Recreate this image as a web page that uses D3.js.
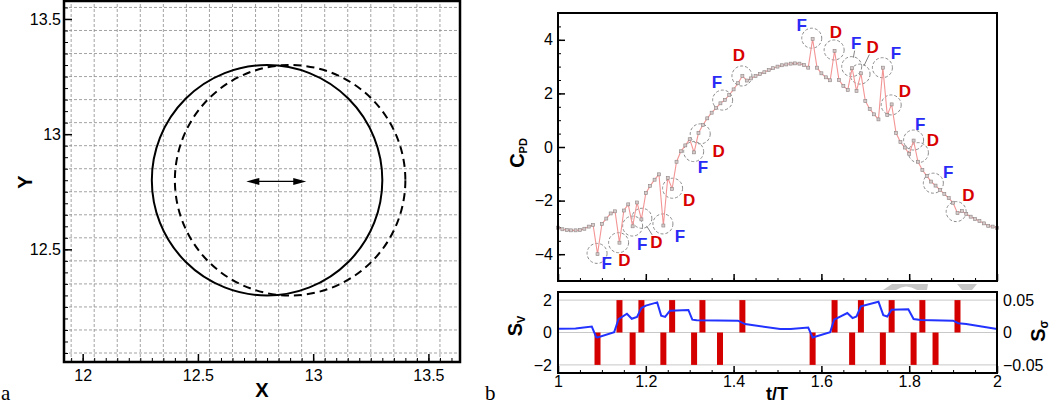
<!DOCTYPE html>
<html>
<head>
<meta charset="utf-8">
<script src="https://cdn.jsdelivr.net/npm/d3@7"></script>
<style>
  body { margin: 0; background: #fff; }
  svg { display: block; font-family: "Liberation Sans", Arial, sans-serif; }
</style>
</head>
<body>
<svg id="chart" width="1050" height="407"></svg>
<script>
// ---------- data: panel a ----------
const circleCx = [12.8, 12.9];
const circleCy = [12.8, 12.8];
const circleR = [0.5, 0.5];
const circleDash = [false, true];
const arrowX = [12.71, 12.97];
const arrowY = 12.795;
const aTicks = [12, 12.5, 13, 13.5];

// ---------- data: panel b ----------
const tTicks = [1, 1.2, 1.4, 1.6, 1.8, 2];
const cpdTicks = [-4, -2, 0, 2, 4];
const svTicks = [-2, 0, 2];
const ssTicks = [-0.05, 0, 0.05];

// C_PD sampled every 0.01 t/T from 1 to 2
const cpdT = d3.range(101).map(i => 1 + i / 100);
const cpdV = [
  -3.01, -3.07, -3.10, -3.11, -3.11, -3.10, -3.05, -2.97, -2.91, -4.00,
  -2.87, -2.67, -2.48, -2.40, -3.57, -2.37, -2.14, -2.96, -2.07, -2.70,
  -1.72, -1.45, -1.22, -1.02, -2.93, -1.15, -1.56, -0.55, -0.16, 0.06,
  0.29, -0.20, 0.52, 0.82, 1.07, 1.28, 1.45, 1.63, 1.76, 1.94,
  2.15, 2.38, 2.65, 2.48, 2.56, 2.65, 2.72, 2.79, 2.87, 2.94,
  3.00, 3.05, 3.08, 3.11, 3.12, 3.11, 3.06, 2.96, 4.03, 2.96,
  2.75, 2.60, 2.49, 3.59, 2.50, 2.28, 2.13, 2.94, 2.09, 2.75,
  1.72, 1.42, 1.22, 1.03, 2.96, 1.19, 1.59, 0.53, 0.18, -0.02,
  -0.26, 0.24, -0.55, -0.86, -1.08, -1.29, -1.44, -1.60, -1.75, -1.91,
  -2.08, -2.47, -2.39, -2.50, -2.60, -2.69, -2.76, -2.85, -2.94, -2.97,
  -3.02
];

// F / D annotations: circle centre and label anchor, in data units
const annType = ["F","D","F","D","F","D","F","D","F","D","F","D","F","D","F","D","F","D","F","D"];
const annT = [1.089, 1.138, 1.170, 1.191, 1.239, 1.261, 1.309, 1.324, 1.375, 1.419,
              1.578, 1.629, 1.669, 1.688, 1.739, 1.759, 1.810, 1.821, 1.855, 1.907];
const annV = [-3.97, -3.57, -2.95, -2.66, -2.87, -1.54, -0.17, 0.49, 1.75, 2.65,
              4.06, 3.62, 3.00, 2.72, 2.96, 1.57, 0.26, -0.21, -1.35, -2.41];
const labT = [1.111, 1.151, 1.192, 1.224, 1.278, 1.299, 1.330, 1.366, 1.362, 1.412,
              1.555, 1.633, 1.679, 1.717, 1.770, 1.790, 1.825, 1.854, 1.889, 1.935];
const labV = [-4.34, -4.22, -3.63, -3.53, -3.32, -1.98, -0.74, -0.14, 2.44, 3.43,
              4.55, 4.28, 3.89, 3.72, 3.52, 2.10, 0.88, 0.26, -0.92, -1.79];
const leaderIdx = [3, 12, 13];

// S_V (blue line)
const svT = [1.0, 1.04, 1.077, 1.087, 1.09, 1.128, 1.138, 1.157, 1.168, 1.18,
             1.19, 1.2, 1.226, 1.235, 1.244, 1.255, 1.297, 1.306, 1.316, 1.41,
             1.426, 1.506, 1.53, 1.57, 1.58, 1.62, 1.629, 1.659, 1.671, 1.68,
             1.69, 1.73, 1.741, 1.75, 1.76, 1.798, 1.81, 1.826, 1.90, 1.912,
             1.93, 2.0];
const svV = [0.23, 0.24, 0.37, -0.29, -0.30, 0.02, 0.83, 1.16, 0.85, 0.96,
             1.51, 1.66, 1.86, 1.04, 0.96, 1.35, 1.39, 0.79, 0.75, 0.73,
             0.52, 0.21, 0.21, 0.31, -0.31, 0.02, 0.79, 1.20, 0.89, 0.99,
             1.62, 1.90, 1.07, 0.99, 1.40, 1.44, 0.83, 0.77, 0.73, 0.57,
             0.53, 0.22];

// S_sigma events (red bars)
const ssT = [1.09, 1.14, 1.17, 1.19, 1.24, 1.26, 1.31, 1.329, 1.369, 1.42,
             1.58, 1.63, 1.67, 1.69, 1.74, 1.76, 1.81, 1.83, 1.86, 1.91];
const ssV = [-0.05, 0.05, -0.05, 0.05, -0.05, 0.05, -0.05, 0.05, -0.05, 0.05,
             -0.05, 0.05, -0.05, 0.05, -0.05, 0.05, -0.05, 0.05, -0.05, 0.05];

// ---------- setup ----------
const svg = d3.select("#chart");
const FONT = "16px";
const blue = "#2a2cf5";
const red = "#d90000";
const inside = (scale) => (v) => v >= d3.min(scale.domain()) && v <= d3.max(scale.domain());

// ===== panel a =====
const ax = d3.scaleLinear().domain([11.919, 13.637]).range([64, 460]);
const ay = d3.scaleLinear().domain([12.011, 13.578]).range([362, 1]);
const pa = svg.append("g");

// dashed grid
const gridX = d3.range(17).map(i => 11.95 + i * 0.1).filter(inside(ax));
const gridY = d3.range(16).map(i => 12.05 + i * 0.1).filter(inside(ay));
pa.selectAll(".gx").data(gridX).join("line")
  .attr("x1", d => ax(d)).attr("x2", d => ax(d))
  .attr("y1", ay.range()[0]).attr("y2", ay.range()[1])
  .attr("stroke", "#8c8c8c").attr("stroke-width", 0.8).attr("stroke-dasharray", "3,2");
pa.selectAll(".gy").data(gridY).join("line")
  .attr("y1", d => ay(d)).attr("y2", d => ay(d))
  .attr("x1", ax.range()[0]).attr("x2", ax.range()[1])
  .attr("stroke", "#8c8c8c").attr("stroke-width", 0.8).attr("stroke-dasharray", "3,2");

// circles
pa.selectAll(".cyl").data(circleCx).join("circle")
  .attr("cx", d => ax(d))
  .attr("cy", (d, i) => ay(circleCy[i]))
  .attr("r", (d, i) => ax(circleCx[i] + circleR[i]) - ax(circleCx[i]))
  .attr("fill", "none").attr("stroke", "#000").attr("stroke-width", 2)
  .attr("stroke-dasharray", (d, i) => circleDash[i] ? "8,5" : null);

// double arrow
const ax1 = ax(arrowX[0]), ax2 = ax(arrowX[1]), ayy = ay(arrowY);
pa.append("line").attr("x1", ax1 + 6).attr("x2", ax2 - 6)
  .attr("y1", ayy).attr("y2", ayy).attr("stroke", "#000").attr("stroke-width", 1.2);
pa.append("path").attr("d", `M${ax1},${ayy}L${ax1 + 13},${ayy - 3.5}L${ax1 + 13},${ayy + 3.5}Z`);
pa.append("path").attr("d", `M${ax2},${ayy}L${ax2 - 13},${ayy - 3.5}L${ax2 - 13},${ayy + 3.5}Z`);

// axes (ticks point inward)
const aMinor = d3.range(239, 273).map(i => i * 0.05);
pa.append("g").attr("transform", "translate(0,362)")
  .call(d3.axisBottom(ax).tickValues(aMinor.filter(inside(ax))).tickSize(-4).tickFormat(""))
  .call(g => g.select(".domain").remove());
pa.append("g").attr("transform", "translate(0,362)")
  .call(d3.axisBottom(ax).tickValues(aTicks.filter(inside(ax))).tickSizeInner(-8).tickSizeOuter(0).tickPadding(8).tickFormat(d3.format("")))
  .call(g => g.select(".domain").remove())
  .call(g => g.selectAll("line").attr("stroke-width", 1.5))
  .call(g => g.selectAll("text").attr("font-size", FONT).attr("fill", "#000").attr("font-family", null));
pa.append("g").attr("transform", "translate(64,0)")
  .call(d3.axisLeft(ay).tickValues(aMinor.filter(inside(ay))).tickSize(-4).tickFormat(""))
  .call(g => g.select(".domain").remove());
pa.append("g").attr("transform", "translate(64,0)")
  .call(d3.axisLeft(ay).tickValues(aTicks.filter(inside(ay))).tickSizeInner(-8).tickSizeOuter(0).tickPadding(3).tickFormat(d3.format("")))
  .call(g => g.select(".domain").remove())
  .call(g => g.selectAll("line").attr("stroke-width", 1.5))
  .call(g => g.selectAll("text").attr("font-size", FONT).attr("fill", "#000").attr("font-family", null));

pa.append("rect").attr("x", 64).attr("y", 1).attr("width", 396).attr("height", 361)
  .attr("fill", "none").attr("stroke", "#000").attr("stroke-width", 2.5);

pa.append("text").attr("x", 262).attr("y", 397).attr("text-anchor", "middle")
  .attr("font-size", "20px").attr("font-weight", "bold").text("X");
pa.append("text").attr("transform", "translate(32,182) rotate(-90)").attr("text-anchor", "middle")
  .attr("font-size", "20px").attr("font-weight", "bold").text("Y");

// ===== panel b: top =====
const bx = d3.scaleLinear().domain([1, 2]).range([558, 997]);
const by = d3.scaleLinear().domain([-5, 5]).range([281, 13]);
const pb = svg.append("g");
const tMinor = d3.range(21).map(i => 1 + i * 0.05);
const cpdMinor = d3.range(21).map(i => -5 + i * 0.5);

pb.append("g").attr("transform", "translate(0,281)")
  .call(d3.axisBottom(bx).tickValues(tMinor).tickSize(-3).tickFormat(""))
  .call(g => g.select(".domain").remove());
pb.append("g").attr("transform", "translate(0,281)")
  .call(d3.axisBottom(bx).tickValues(tTicks).tickSizeInner(-7).tickSizeOuter(0).tickFormat(""))
  .call(g => g.select(".domain").remove())
  .call(g => g.selectAll("line").attr("stroke-width", 1.5));
pb.append("g").attr("transform", "translate(558,0)")
  .call(d3.axisLeft(by).tickValues(cpdMinor).tickSize(-3).tickFormat(""))
  .call(g => g.select(".domain").remove());
pb.append("g").attr("transform", "translate(558,0)")
  .call(d3.axisLeft(by).tickValues(cpdTicks).tickSizeInner(-7).tickSizeOuter(0).tickPadding(5).tickFormat(d3.format("")))
  .call(g => g.select(".domain").remove())
  .call(g => g.selectAll("line").attr("stroke-width", 1.5))
  .call(g => g.selectAll("text").attr("font-size", FONT).attr("fill", "#000").attr("font-family", null));

// annotation circles
pb.selectAll(".ann").data(annT).join("circle")
  .attr("cx", d => bx(d)).attr("cy", (d, i) => by(annV[i])).attr("r", 10)
  .attr("fill", "none").attr("stroke", "#8a8a8a").attr("stroke-width", 1)
  .attr("stroke-dasharray", "3,2");

// leader lines
leaderIdx.forEach(i => {
  const cx = bx(annT[i]), cy = by(annV[i]);
  const lx = bx(labT[i]), ly = by(labV[i]);
  const dx = lx - cx, dy = ly - cy, L = Math.hypot(dx, dy);
  pb.append("line")
    .attr("x1", cx + dx / L * 9).attr("y1", cy + dy / L * 9)
    .attr("x2", cx + dx / L * (L - 8)).attr("y2", cy + dy / L * (L - 8))
    .attr("stroke", "#666").attr("stroke-width", 0.8);
});

// C_PD line and markers
const cpdLine = d3.line().x((d, i) => bx(cpdT[i])).y(d => by(d));
pb.append("path").datum(cpdV).attr("d", cpdLine)
  .attr("fill", "none").attr("stroke", "#f39595").attr("stroke-width", 1.1);
pb.selectAll(".mk").data(cpdV).join("rect")
  .attr("x", (d, i) => bx(cpdT[i]) - 1.5).attr("y", d => by(d) - 1.5)
  .attr("width", 3).attr("height", 3)
  .attr("fill", "#d6caca").attr("stroke", "#8e8484").attr("stroke-width", 0.6);

// F / D labels
pb.selectAll(".lab").data(annType).join("text")
  .attr("x", (d, i) => bx(labT[i])).attr("y", (d, i) => by(labV[i]))
  .attr("dy", "0.36em").attr("text-anchor", "middle")
  .attr("font-size", "17px").attr("font-weight", "bold")
  .attr("fill", d => d === "F" ? blue : red).text(d => d);

pb.append("rect").attr("x", 558).attr("y", 13).attr("width", 439).attr("height", 268)
  .attr("fill", "none").attr("stroke", "#000").attr("stroke-width", 2);

const cpdLab = pb.append("text").attr("transform", "translate(524,153) rotate(-90)")
  .attr("text-anchor", "middle").attr("font-weight", "bold");
cpdLab.append("tspan").attr("font-size", "20px").text("C");
cpdLab.append("tspan").attr("font-size", "11px").attr("dy", "3").text("PD");

// faint grey shapes between the panels
svg.append("path").attr("d", "M883,290L892,284L928,284L927,290L917,290Q906,283 896,290Z").attr("fill", "#c6c6c6");
svg.append("path").attr("d", "M957,284L977,284L972,290L962,290Z").attr("fill", "#c6c6c6");

// ===== panel b: bottom =====
const sy = d3.scaleLinear().domain([-2.5, 2.5]).range([373, 292]);
const sy2 = d3.scaleLinear().domain([-0.0625, 0.0625]).range([373, 292]);
const pc = svg.append("g");

pc.selectAll(".hg").data(svTicks).join("line")
  .attr("x1", 558).attr("x2", 997).attr("y1", d => sy(d)).attr("y2", d => sy(d))
  .attr("stroke", "#c8c8c8").attr("stroke-width", 1);

pc.selectAll(".bar").data(ssV).join("rect")
  .attr("x", (d, i) => bx(ssT[i]) - 3)
  .attr("y", d => Math.min(sy2(d), sy2(0)))
  .attr("width", 6)
  .attr("height", d => Math.abs(sy2(d) - sy2(0)))
  .attr("fill", "#d40000");

const svLine = d3.line().x((d, i) => bx(svT[i])).y(d => sy(d));
pc.append("path").datum(svV).attr("d", svLine)
  .attr("fill", "none").attr("stroke", "#2233ff").attr("stroke-width", 2);

pc.append("g").attr("transform", "translate(0,373)")
  .call(d3.axisBottom(bx).tickValues(tMinor).tickSize(-3).tickFormat(""))
  .call(g => g.select(".domain").remove());
pc.append("g").attr("transform", "translate(0,373)")
  .call(d3.axisBottom(bx).tickValues(tTicks).tickSizeInner(-7).tickSizeOuter(0).tickPadding(3).tickFormat(d3.format("")))
  .call(g => g.select(".domain").remove())
  .call(g => g.selectAll("line").attr("stroke-width", 1.5))
  .call(g => g.selectAll("text").attr("font-size", FONT).attr("fill", "#000").attr("font-family", null));
pc.append("g").attr("transform", "translate(558,0)")
  .call(d3.axisLeft(sy).tickValues(svTicks).tickSize(0).tickPadding(6).tickFormat(d3.format("")))
  .call(g => g.select(".domain").remove())
  .call(g => g.selectAll("text").attr("font-size", FONT).attr("fill", "#000").attr("font-family", null));
pc.append("g").attr("transform", "translate(997,0)")
  .call(d3.axisRight(sy2).tickValues(ssTicks).tickSize(0).tickPadding(6).tickFormat(d3.format("")))
  .call(g => g.select(".domain").remove())
  .call(g => g.selectAll("text").attr("font-size", FONT).attr("fill", "#000").attr("font-family", null));

pc.append("rect").attr("x", 558).attr("y", 292).attr("width", 439).attr("height", 81)
  .attr("fill", "none").attr("stroke", "#000").attr("stroke-width", 2);

const svLab = pc.append("text").attr("transform", "translate(522,326) rotate(-90)")
  .attr("text-anchor", "middle").attr("font-weight", "bold");
svLab.append("tspan").attr("font-size", "20px").text("S");
svLab.append("tspan").attr("font-size", "11px").attr("dy", "3").text("V");
const ssLab = pc.append("text").attr("transform", "translate(1045,331) rotate(-90)")
  .attr("text-anchor", "middle").attr("font-weight", "bold");
ssLab.append("tspan").attr("font-size", "20px").text("S");
ssLab.append("tspan").attr("font-size", "12px").attr("dy", "3").text("σ");

pc.append("text").attr("x", 777).attr("y", 400).attr("text-anchor", "middle")
  .attr("font-size", "18px").attr("font-weight", "bold").text("t/T");

// panel letters
svg.append("text").attr("x", 1).attr("y", 400).attr("font-family", "Liberation Serif, serif")
  .attr("font-size", "21px").text("a");
svg.append("text").attr("x", 485).attr("y", 400).attr("font-family", "Liberation Serif, serif")
  .attr("font-size", "21px").text("b");
</script>
</body>
</html>
